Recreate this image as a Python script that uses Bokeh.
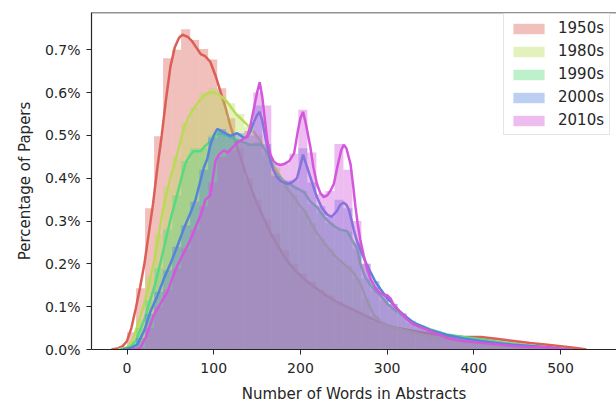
from bokeh.plotting import figure
from bokeh.models import FixedTicker, PrintfTickFormatter, Legend, LegendItem, Range1d, Span
from bokeh.embed import file_html
from bokeh.resources import INLINE

decades = ["1950s", "1980s", "1990s", "2000s", "2010s"]
colors = ["#db5f57", "#b9db57", "#57db80", "#5784db", "#d357db"]

# histogram bin edges (number of words)
bin_edges = [0, 10.4, 20.8, 31.2, 41.6, 52, 62.4, 72.8, 83.2, 93.6, 104, 114.4, 124.8,
             135.2, 145.6, 156, 166.4, 176.8, 187.2, 197.6, 208, 218.4, 228.8, 239.2,
             249.6, 260, 270.4, 280.8, 291.2, 301.6, 312, 322.4, 332.8, 343.2, 353.6,
             364, 374.4, 384.8, 395.2, 405.6, 416, 426.4, 436.8, 447.2, 457.6, 468,
             478.4, 488.8, 499.2, 509.6, 520]

# histogram heights (% of papers)
hist_1950s = [0.04, 0.143, 0.33, 0.498, 0.68, 0.70, 0.748, 0.723, 0.702, 0.677,
              0.61, 0.54, 0.47, 0.40, 0.35, 0.305, 0.27, 0.232, 0.20, 0.178,
              0.158, 0.14, 0.126, 0.112, 0.099, 0.089, 0.077, 0.066, 0.057, 0.051,
              0.047, 0.043, 0.04, 0.037, 0.034, 0.031, 0.029, 0.029, 0.03, 0.028,
              0.026, 0.023, 0.02, 0.017, 0.014, 0.011, 0.009, 0.007, 0.005, 0.003]
hist_1980s = [0.01, 0.07, 0.17, 0.27, 0.38, 0.45, 0.53, 0.565, 0.60, 0.61,
              0.59, 0.575, 0.55, 0.52, 0.50, 0.455, 0.425, 0.385, 0.36, 0.325,
              0.295, 0.26, 0.235, 0.21, 0.195, 0.165, 0.12, 0.078, 0.06, 0.053,
              0.047, 0.041, 0.035, 0.03, 0.027, 0.024, 0.021, 0.018, 0.016, 0.014,
              0.012, 0.01, 0.009, 0.007, 0.006, 0.005, 0.005, 0.003, 0.001, 0.0]
hist_1990s = [0.008, 0.05, 0.115, 0.19, 0.28, 0.36, 0.44, 0.47, 0.47, 0.50,
              0.51, 0.495, 0.49, 0.48, 0.485, 0.465, 0.41, 0.395, 0.38, 0.37,
              0.34, 0.32, 0.295, 0.28, 0.275, 0.235, 0.165, 0.138, 0.115, 0.096,
              0.08, 0.067, 0.057, 0.048, 0.041, 0.035, 0.032, 0.029, 0.026, 0.023,
              0.02, 0.016, 0.014, 0.012, 0.009, 0.007, 0.005, 0.003, 0.001, 0.0]
hist_2000s = [0.004, 0.027, 0.083, 0.135, 0.185, 0.24, 0.29, 0.345, 0.42, 0.495,
              0.515, 0.50, 0.505, 0.50, 0.57, 0.48, 0.405, 0.39, 0.395, 0.47,
              0.39, 0.335, 0.31, 0.35, 0.33, 0.25, 0.2, 0.16, 0.13, 0.106,
              0.085, 0.067, 0.055, 0.046, 0.04, 0.034, 0.03, 0.026, 0.022, 0.019,
              0.016, 0.014, 0.012, 0.01, 0.008, 0.007, 0.005, 0.003, 0.001, 0.0]
hist_2010s = [0.0, 0.005, 0.05, 0.10, 0.14, 0.19, 0.235, 0.28, 0.335, 0.39,
              0.45, 0.465, 0.486, 0.51, 0.60, 0.57, 0.435, 0.434, 0.457, 0.56,
              0.46, 0.363, 0.37, 0.48, 0.42, 0.30, 0.2, 0.145, 0.128, 0.107,
              0.083, 0.063, 0.052, 0.044, 0.036, 0.027, 0.023, 0.02, 0.018, 0.016,
              0.013, 0.011, 0.009, 0.007, 0.006, 0.005, 0.005, 0.003, 0.001, 0.0]

# KDE curves (words, % of papers)
kde_1950s_x = [-18, -10, -5, 0, 5, 10, 15, 20, 25, 30, 35, 40, 45, 50, 55, 60, 64, 70, 75, 80,
               85, 90, 96, 102, 108, 114, 119, 125, 131, 137, 144, 150, 158, 165.5, 173, 181,
               188, 196, 207, 219, 230, 242, 254, 265.5, 277, 288.5, 300, 311.6, 331, 350,
               369, 388, 408, 426, 446, 465, 485, 508, 520, 530]
kde_1950s_y = [0, 0.003, 0.008, 0.02, 0.05, 0.095, 0.145, 0.2, 0.27, 0.34, 0.425, 0.5, 0.585,
               0.66, 0.705, 0.728, 0.735, 0.73, 0.72, 0.705, 0.69, 0.685, 0.672, 0.64, 0.601,
               0.562, 0.524, 0.485, 0.448, 0.41, 0.372, 0.341, 0.305, 0.272, 0.245, 0.219,
               0.198, 0.18, 0.16, 0.142, 0.126, 0.111, 0.099, 0.0885, 0.077, 0.066, 0.057,
               0.05, 0.043, 0.037, 0.031, 0.029, 0.029, 0.025, 0.02, 0.015, 0.011, 0.006,
               0.003, 0.0]

kde_1980s_x = [-10, 0, 6, 12, 19.4, 25, 31, 36, 40.6, 45, 50.2, 54, 59.8, 65.5, 71, 77, 83,
               88.6, 95, 100, 106, 111.6, 115.6, 122, 127, 131, 137, 142.4, 146, 154, 161.7,
               169, 177.5, 185, 192.7, 200, 204, 211.6, 219, 227, 234.7, 242, 250, 256,
               261.5, 265.5, 270, 273, 277, 281, 284.7, 292, 300, 311.6, 331, 350, 369, 388,
               408, 426, 446, 465, 485, 500, 512]
kde_1980s_y = [0, 0.005, 0.02, 0.055, 0.104, 0.15, 0.203, 0.26, 0.318, 0.36, 0.402, 0.428,
               0.471, 0.517, 0.543, 0.563, 0.58, 0.593, 0.6, 0.601, 0.595, 0.586, 0.578,
               0.56, 0.547, 0.54, 0.528, 0.517, 0.509, 0.486, 0.455, 0.43, 0.402, 0.375,
               0.356, 0.333, 0.326, 0.298, 0.272, 0.25, 0.23, 0.214, 0.2, 0.19, 0.178,
               0.165, 0.15, 0.134, 0.113, 0.096, 0.081, 0.066, 0.057, 0.05, 0.039, 0.029,
               0.024, 0.018, 0.014, 0.011, 0.008, 0.006, 0.005, 0.002, 0.0]

kde_1990s_x = [-8, 0, 5, 10, 15, 20, 25, 32, 38.6, 44, 50, 55, 60, 64, 67.5, 73, 77, 84.8,
               90, 96, 102, 106, 112, 119, 125, 131, 137, 142, 150, 154, 158, 165.5, 169,
               175, 181, 188.6, 196, 200, 204, 211.6, 219, 227, 234.7, 241, 246, 254, 261.5,
               265.5, 269, 275, 281, 286, 292, 300, 307.7, 315, 323, 331, 350, 369, 388, 408,
               426, 446, 465, 485, 500, 510]
kde_1990s_y = [0, 0.003, 0.008, 0.02, 0.045, 0.07, 0.104, 0.15, 0.203, 0.25, 0.303, 0.34,
               0.379, 0.41, 0.435, 0.455, 0.463, 0.463, 0.475, 0.486, 0.5, 0.505, 0.502,
               0.496, 0.49, 0.486, 0.482, 0.478, 0.478, 0.479, 0.47, 0.45, 0.42, 0.405,
               0.394, 0.385, 0.376, 0.372, 0.368, 0.345, 0.333, 0.31, 0.295, 0.285, 0.28,
               0.276, 0.249, 0.235, 0.2, 0.168, 0.15, 0.138, 0.127, 0.107, 0.094, 0.083,
               0.073, 0.062, 0.047, 0.035, 0.029, 0.024, 0.018, 0.013, 0.009, 0.005, 0.002,
               0.0]

kde_2000s_x = [-5, 5, 12, 20, 27, 35, 42.4, 50, 58, 65, 73, 79, 84.8, 88.6, 92.5, 96, 100,
               104, 108, 111.6, 119, 123, 127, 131, 134.7, 138.5, 142.4, 146, 150, 153, 156,
               159.7, 165.5, 169, 173, 178, 185, 190, 196, 200, 203, 207, 211.6, 215, 219,
               225, 231, 236, 242, 246, 250, 253, 256, 261.5, 265, 269, 275, 281, 286, 292,
               300, 307.7, 315, 323, 331, 350, 369, 388, 408, 426, 446, 465, 485, 500, 512]
kde_2000s_y = [0, 0.004, 0.012, 0.045, 0.089, 0.125, 0.165, 0.2, 0.241, 0.28, 0.318, 0.35,
               0.395, 0.425, 0.445, 0.476, 0.5, 0.515, 0.511, 0.507, 0.499, 0.502, 0.505,
               0.5, 0.494, 0.496, 0.51, 0.53, 0.547, 0.555, 0.535, 0.494, 0.44, 0.418, 0.402,
               0.392, 0.387, 0.39, 0.4, 0.43, 0.455, 0.43, 0.402, 0.38, 0.356, 0.33, 0.315,
               0.31, 0.323, 0.338, 0.343, 0.338, 0.326, 0.28, 0.255, 0.234, 0.205, 0.18,
               0.16, 0.142, 0.12, 0.104, 0.088, 0.075, 0.062, 0.045, 0.034, 0.026, 0.02,
               0.015, 0.011, 0.008, 0.005, 0.002, 0.0]

kde_2010s_x = [5, 12, 15.6, 22, 31, 38, 46.4, 52, 58, 64, 69.4, 75, 81, 86, 90.5, 96, 99,
               102, 106, 111.6, 116, 121, 127, 133, 138.6, 142, 146, 150, 153, 156, 159.7,
               162, 165.5, 169, 173, 177, 181, 187, 192.7, 197, 200, 203, 206, 211.6, 215,
               219, 223, 227, 231, 235, 238.6, 243, 247, 250, 253, 257.8, 261, 263.5, 266,
               269, 273, 277, 281, 284.6, 290, 296, 300, 304, 307.7, 311, 315, 323, 331,
               350, 369, 388, 408, 426, 446, 465, 485, 500, 512]
kde_2010s_y = [0, 0.002, 0.005, 0.03, 0.081, 0.105, 0.134, 0.165, 0.196, 0.22, 0.241, 0.265,
               0.295, 0.32, 0.35, 0.36, 0.40, 0.44, 0.455, 0.465, 0.46, 0.47, 0.483, 0.49,
               0.498, 0.52, 0.56, 0.6, 0.624, 0.59, 0.524, 0.485, 0.455, 0.44, 0.433, 0.431,
               0.433, 0.44, 0.458, 0.51, 0.54, 0.555, 0.53, 0.471, 0.425, 0.387, 0.365,
               0.356, 0.36, 0.372, 0.387, 0.43, 0.465, 0.478, 0.47, 0.433, 0.38, 0.333,
               0.295, 0.257, 0.22, 0.188, 0.165, 0.15, 0.135, 0.128, 0.126, 0.119, 0.104,
               0.095, 0.088, 0.07, 0.058, 0.043, 0.027, 0.02, 0.016, 0.012, 0.008, 0.006,
               0.005, 0.002, 0.0]

x_ticks = [0, 100, 200, 300, 400, 500]
y_ticks = [0.0, 0.1, 0.2, 0.3, 0.4, 0.5, 0.6, 0.7]
x_min, x_max = -41, 564.6
y_min, y_max = 0, 0.787

hists = [hist_1950s, hist_1980s, hist_1990s, hist_2000s, hist_2010s]
kdes = [(kde_1950s_x, kde_1950s_y), (kde_1980s_x, kde_1980s_y), (kde_1990s_x, kde_1990s_y),
        (kde_2000s_x, kde_2000s_y), (kde_2010s_x, kde_2010s_y)]

FONT = "DejaVu Sans"
TXT = "#262626"

p = figure(width=616, height=405, x_range=Range1d(x_min, x_max), y_range=Range1d(y_min, y_max),
           output_backend="svg", toolbar_location=None,
           min_border_left=91, min_border_right=0, min_border_top=12, min_border_bottom=50)
p.grid.visible = False
p.background_fill_color = "white"
p.outline_line_color = None

items = []
for name, col, h, (kx, ky) in zip(decades, colors, hists, kdes):
    r = p.quad(left=bin_edges[:-1], right=bin_edges[1:], bottom=0, top=h,
               fill_color=col, fill_alpha=0.4, line_color=None)
    p.line(kx, ky, line_color=col, line_width=2.5)
    items.append(LegendItem(label=name, renderers=[r]))

# top spine
p.add_layout(Span(location=y_max, dimension="width", line_color=TXT, line_width=1.3))

for ax in (p.xaxis[0], p.yaxis[0]):
    ax.axis_line_color = TXT
    ax.axis_line_width = 1.2
    ax.major_tick_line_color = TXT
    ax.major_tick_out = 5
    ax.major_tick_in = 0
    ax.minor_tick_line_color = None
    ax.major_label_text_font = FONT
    ax.major_label_text_font_size = "14px"
    ax.major_label_text_color = TXT
    ax.axis_label_text_font = FONT
    ax.axis_label_text_font_size = "15px"
    ax.axis_label_text_color = TXT
    ax.axis_label_text_font_style = "normal"

p.xaxis.ticker = FixedTicker(ticks=x_ticks)
p.yaxis.ticker = FixedTicker(ticks=y_ticks)
p.yaxis.formatter = PrintfTickFormatter(format="%.1f%%")
p.xaxis.axis_label = "Number of Words in Abstracts"
p.yaxis.axis_label = "Percentage of Papers"
p.xaxis.major_label_standoff = 8
p.xaxis.axis_label_standoff = 9
p.yaxis.major_label_standoff = 6
p.yaxis.axis_label_standoff = 8

legend = Legend(items=items, location=(412, 214))
legend.label_text_font = FONT
legend.label_text_font_size = "15px"
legend.label_text_color = TXT
legend.border_line_color = "#cccccc"
legend.border_line_width = 1
legend.background_fill_alpha = 0.8
legend.glyph_width = 39
legend.glyph_height = 13
legend.label_standoff = 10
legend.padding = 5
legend.spacing = 5
legend.label_height = 16
legend.margin = 0
p.add_layout(legend)

open("out.html", "w").write(file_html(p, INLINE))
